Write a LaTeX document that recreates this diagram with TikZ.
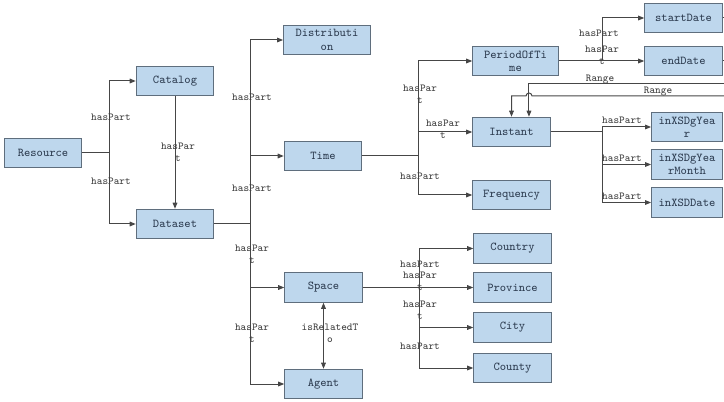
\documentclass[tikz,border=0pt]{standalone}
\usetikzlibrary{arrows.meta}
\definecolor{boxfill}{RGB}{190,215,237}
\definecolor{boxline}{RGB}{95,110,125}
\definecolor{boxtext}{RGB}{45,60,80}
\definecolor{linkcol}{RGB}{70,70,70}
\begin{document}
\begin{tikzpicture}[x=0.75pt,y=-0.75pt,
	class node/.style={rectangle,draw=boxline,fill=boxfill,line width=0.9pt,text=boxtext,
		font=\ttfamily\fontsize{9}{10}\selectfont,minimum width=58pt,minimum height=22pt,
		inner sep=0pt,align=center},
	lbl/.style={font=\ttfamily\fontsize{8}{9}\selectfont,text=black!75,inner sep=0pt,align=center},
	link/.style={draw=linkcol,line width=0.75pt},
	arr/.style={link,-{Triangle[length=4.5pt,width=3.5pt]}}]
	\useasboundingbox (0,0) rectangle (724,402);
	
	\node[class node] (res) at (43,153) {Resource};
	\node[class node] (cat) at (175,81) {Catalog};
	\node[class node] (ds) at (175,224) {Dataset};
	\node[class node,minimum width=65pt] (dist) at (327,40) {Distributi\\on};
	\node[class node] (time) at (323,156) {Time};
	\node[class node] (space) at (323.5,287.5) {Space};
	\node[class node] (agent) at (323.5,384) {Agent};
	\node[class node,minimum width=64pt] (per) at (515.5,61) {PeriodOfTi\\me};
	\node[class node] (inst) at (511.5,132) {Instant};
	\node[class node] (freq) at (511.5,195) {Frequency};
	\node[class node] (start) at (683.5,18) {startDate};
	\node[class node] (end) at (683.5,61) {endDate};
	\node[class node,minimum width=53pt] (gy) at (687,127) {inXSDgYea\\r};
	\node[class node,minimum width=53pt] (gym) at (687,164.5) {inXSDgYea\\rMonth};
	\node[class node,minimum width=53pt] (dd) at (687,202.5) {inXSDDate};
	\node[class node] (cty) at (512.5,248.5) {Country};
	\node[class node] (prov) at (512.5,287.5) {Province};
	\node[class node] (city) at (512.5,327.5) {City};
	\node[class node] (cnty) at (512.5,368) {County};
	
	% junctions and off-page ends
	\coordinate (j1) at (109,153);
	\coordinate (j2) at (250,224);
	\coordinate (j3) at (418,156);
	\coordinate (j4) at (602,61);
	\coordinate (j5) at (602,132);
	\coordinate (j6) at (419,287.5);
	\coordinate (s1) at (724,18);
	\coordinate (s2) at (724,61);
	\coordinate (r1) at (724,84);
	\coordinate (r2) at (724,96);
	\coordinate (hop) at (532,96);
	
	\draw[link] (res) -- (j1);
	\draw[arr] (j1) |- (cat);
	\draw[arr] (j1) |- (ds);
	\draw[arr] (cat) -- (ds);
	\draw[link] (ds) -- (j2);
	\draw[arr] (j2) |- (dist);
	\draw[arr] (j2) |- (time);
	\draw[arr] (j2) |- (space);
	\draw[arr] (j2) |- (agent);
	\draw[link] (time) -- (j3);
	\draw[arr] (j3) |- (per);
	\draw[arr] (j3) |- (inst);
	\draw[arr] (j3) |- (freq);
	\draw[arr] (per) -- (end);
	\draw[arr] (j4) |- (start);
	\draw[link] (start) -- (s1);
	\draw[link] (end) -- (s2);
	\draw[link] (inst) -- (j5);
	\draw[arr] (j5) |- (gy);
	\draw[arr] (j5) |- (gym);
	\draw[arr] (j5) |- (dd);
	\draw[link] (space) -- (j6);
	\draw[arr] (j6) |- (cty);
	\draw[arr] (j6) |- (prov);
	\draw[arr] (j6) |- (city);
	\draw[arr] (j6) |- (cnty);
	\draw[link,{Triangle[length=4.5pt,width=3.5pt]}-{Triangle[length=4.5pt,width=3.5pt]}] (space) -- (agent);
	\draw[arr] (r1) -| ([xshift=13.1pt]inst.north);
	\draw[arr] (r2) -- (hop) arc[start angle=0,end angle=180,radius=2.25pt] -| (inst.north);
	
	% labels
	\node[lbl] (l1) at (111,117) {hasPart};
	\node[lbl] (l2) at (111,181) {hasPart};
	\node[lbl] (l3) at (178,152) {hasPar\\t};
	\node[lbl] (l4) at (252,97) {hasPart};
	\node[lbl] (l5) at (252,188) {hasPart};
	\node[lbl] (l6) at (252,254) {hasPar\\t};
	\node[lbl] (l7) at (252,333) {hasPar\\t};
	\node[lbl] (l8) at (420,94) {hasPar\\t};
	\node[lbl] (l9) at (443,129) {hasPar\\t};
	\node[lbl] (l10) at (420,176) {hasPart};
	\node[lbl] (l11) at (599,33) {hasPart};
	\node[lbl] (l12) at (602,55) {hasPar\\t};
	\node[lbl] (l13) at (600,79) {Range};
	\node[lbl] (l14) at (658,91) {Range};
	\node[lbl] (l15) at (622,120) {hasPart};
	\node[lbl] (l16) at (622,158) {hasPart};
	\node[lbl] (l17) at (622,196) {hasPart};
	\node[lbl] (l18) at (420,264) {hasPart};
	\node[lbl] (l19) at (420,281) {hasPar\\t};
	\node[lbl] (l20) at (420,310) {hasPar\\t};
	\node[lbl] (l21) at (420,346) {hasPart};
	\node[lbl] (l22) at (330,333) {isRelatedT\\o};
\end{tikzpicture}
\end{document}
